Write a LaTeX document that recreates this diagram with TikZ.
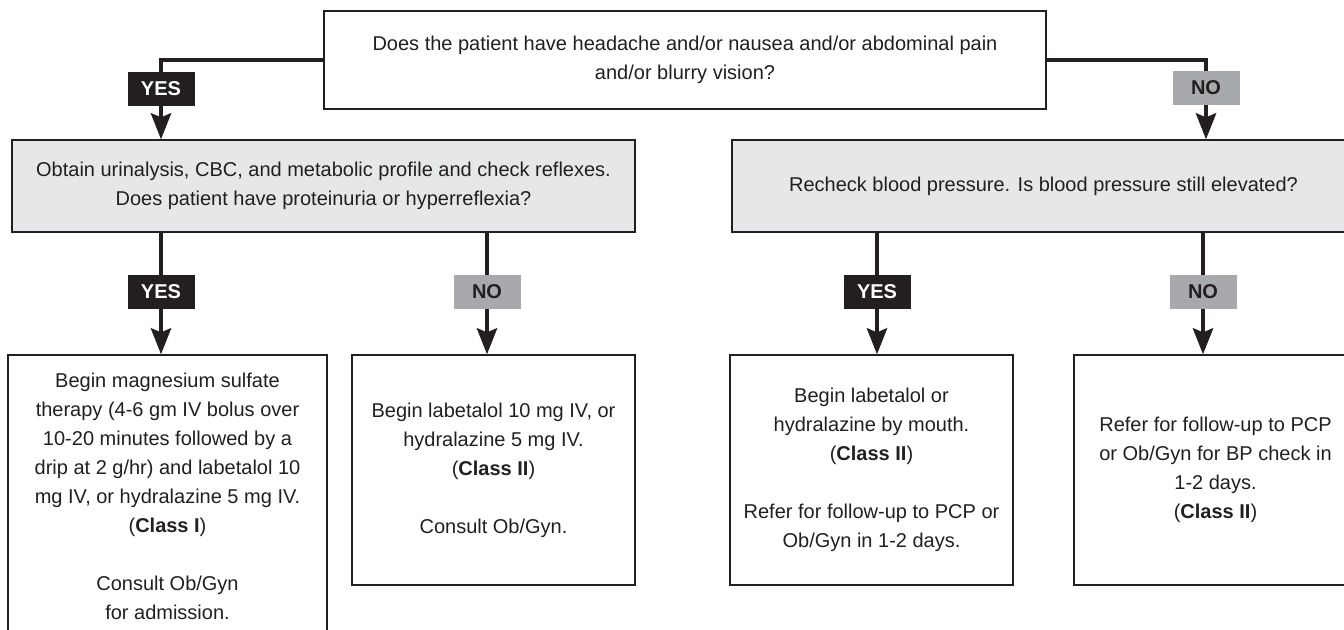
\documentclass[tikz,border=0pt]{standalone}
\usepackage{fontspec}
\setmainfont{Liberation Sans}
\usetikzlibrary{arrows.meta}
\definecolor{inkcol}{HTML}{231F20}
\definecolor{panelgray}{HTML}{E6E7E8}
\definecolor{nogray}{HTML}{A7A9AC}
\begin{document}
\begin{tikzpicture}[
                x=0.5pt, y=-0.5pt,
                every node/.style={font=\fontsize{10}{14.5}\selectfont, align=center, inner sep=0pt, text=inkcol}, % Common text
                textbox/.style={draw=inkcol, line width=0.6pt, fill=white}, % Plain boxes
                graybox/.style={textbox, fill=panelgray, minimum width=311.5pt, minimum height=46pt}, % Shaded question boxes
                endbox/.style={textbox, minimum width=141.5pt, minimum height=115pt}, % Result boxes
                lblyes/.style={fill=inkcol, text=white, font=\fontsize{10}{12}\selectfont\bfseries, minimum width=33.5pt, minimum height=17pt}, % YES tag
                lblno/.style={lblyes, fill=nogray, text=inkcol}, % NO tag
                link/.style={draw=inkcol, line width=2.3pt}, % Plain connector
                conn/.style={link, -{Stealth[length=13pt, width=10pt, inset=2pt]}} % Connector with arrow
                ]
                \useasboundingbox (0,0) rectangle (1344,630);
                % question at the top
                \node[textbox, minimum width=361pt, minimum height=49pt] (top) at (685,60)
                    {Does the patient have headache and/or nausea and/or abdominal pain\\and/or blurry vision?};
                % second row
                \node[graybox] (grayL) at (323.5,186)
                    {Obtain urinalysis, CBC, and metabolic profile and check reflexes.\\Does patient have proteinuria or hyperreflexia?};
                \node[graybox] (grayR) at (1043.5,186)
                    {Recheck blood pressure. Is blood pressure still elevated?};
                % results
                \node[textbox, minimum width=159.5pt, minimum height=141.5pt] (box1) at (167.5,496.5)
                    {Begin magnesium sulfate\\therapy (4-6 gm IV bolus over\\10-20 minutes followed by a\\drip at 2 g/hr) and labetalol 10\\mg IV, or hydralazine 5 mg IV.\\(\textbf{Class I})\\[14.5pt]Consult Ob/Gyn\\for admission.};
                \node[endbox] (box2) at (493.5,470)
                    {Begin labetalol 10 mg IV, or\\hydralazine 5 mg IV.\\(\textbf{Class II})\\[14.5pt]Consult Ob/Gyn.};
                \node[endbox] (box3) at (871.5,470)
                    {Begin labetalol or\\hydralazine by mouth.\\(\textbf{Class II})\\[14.5pt]Refer for follow-up to PCP or\\Ob/Gyn in 1-2 days.};
                \node[endbox] (box4) at (1215.5,470)
                    {Refer for follow-up to PCP\\or Ob/Gyn for BP check in\\1-2 days.\\(\textbf{Class II})};
                % tags
                \node[lblyes] (yes1) at (161,89) {YES};
                \node[lblno] (no1) at (1206,88) {NO};
                \node[lblyes] (yes2) at (161,292) {YES};
                \node[lblno] (no2) at (487,292) {NO};
                \node[lblyes] (yes3) at (877,292) {YES};
                \node[lblno] (no3) at (1203,292) {NO};
                % connectors
                \draw[link] (top.west) -| (yes1);
                \draw[conn] (yes1) -- (grayL.north -| yes1);
                \draw[link] (top.east) -| (no1);
                \draw[conn] (no1) -- (grayR.north -| no1);
                \draw[link] (grayL.south -| yes2) -- (yes2);
                \draw[conn] (yes2) -- (box1.north -| yes2);
                \draw[link] (grayL.south -| no2) -- (no2);
                \draw[conn] (no2) -- (box2.north -| no2);
                \draw[link] (grayR.south -| yes3) -- (yes3);
                \draw[conn] (yes3) -- (box3.north -| yes3);
                \draw[link] (grayR.south -| no3) -- (no3);
                \draw[conn] (no3) -- (box4.north -| no3);
            \end{tikzpicture}
\end{document}
